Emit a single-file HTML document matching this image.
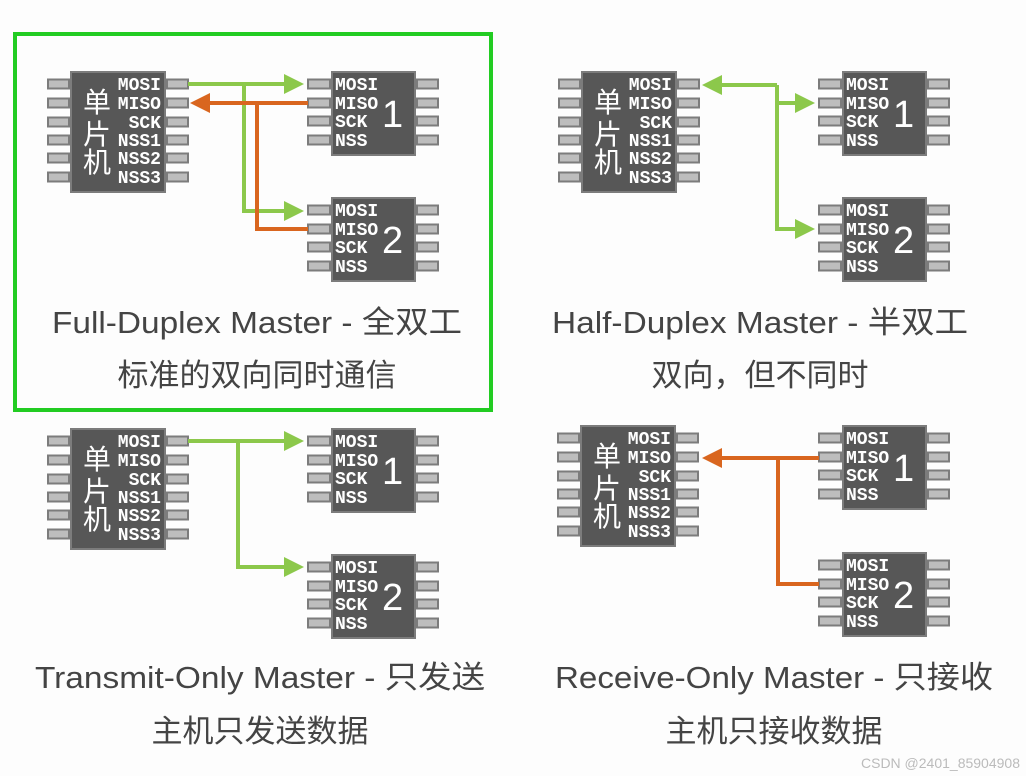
<!DOCTYPE html>
<html><head><meta charset="utf-8"><style>
html,body{margin:0;padding:0;background:#fdfdfd;}
svg{display:block;}
.b{fill:#575757;stroke:#7c7c7c;stroke-width:2}
.p{fill:#bdbdbd;stroke:#7c7c7c;stroke-width:2}
.l{font-family:"Liberation Mono",monospace;font-weight:bold;font-size:18px;fill:#fff}
.cn{font-family:"Liberation Sans","Noto Sans CJK SC",sans-serif;font-size:28px;fill:#fff}
.n{font-family:"Liberation Sans",sans-serif;font-size:38px;fill:#fff}
.t{font-family:"Liberation Sans","Noto Sans CJK SC",sans-serif;font-size:31px;fill:#444;text-anchor:middle}
.g{stroke:#8cc84b;stroke-width:4;fill:none}
.o{stroke:#d9661f;stroke-width:4;fill:none}
</style></head><body>
<svg width="1026" height="776" viewBox="0 0 1026 776" xmlns="http://www.w3.org/2000/svg">
<defs>
<marker id="ag" markerWidth="5" markerHeight="5" refX="4" refY="2.5" orient="auto" markerUnits="strokeWidth"><path d="M0,0 L5,2.5 L0,5 z" fill="#8cc84b"/></marker>
<marker id="ao" markerWidth="5" markerHeight="5" refX="4" refY="2.5" orient="auto" markerUnits="strokeWidth"><path d="M0,0 L5,2.5 L0,5 z" fill="#d9661f"/></marker>
</defs>

<rect x="15" y="34" width="476" height="376" fill="none" stroke="#22cc22" stroke-width="4"/>

<!-- Panel 1 -->
<g transform="translate(71,72)">
<rect class="b" x="0" y="0" width="94" height="120"/>
<rect class="p" x="-23" y="7.5" width="21" height="9"/><rect class="p" x="-23" y="26.5" width="21" height="9"/><rect class="p" x="-23" y="45.5" width="21" height="9"/><rect class="p" x="-23" y="63.5" width="21" height="9"/><rect class="p" x="-23" y="81.5" width="21" height="9"/><rect class="p" x="-23" y="100.5" width="21" height="9"/>
<rect class="p" x="96" y="7.5" width="21" height="9"/><rect class="p" x="96" y="26.5" width="21" height="9"/><rect class="p" x="96" y="45.5" width="21" height="9"/><rect class="p" x="96" y="63.5" width="21" height="9"/><rect class="p" x="96" y="81.5" width="21" height="9"/><rect class="p" x="96" y="100.5" width="21" height="9"/>
<g class="l" text-anchor="end"><text x="90" y="18">MOSI</text><text x="90" y="37">MISO</text><text x="90" y="56">SCK</text><text x="90" y="74">NSS1</text><text x="90" y="92">NSS2</text><text x="90" y="111">NSS3</text></g>
<g class="cn" text-anchor="middle"><text x="26" y="40">单</text><text x="26" y="72">片</text><text x="26" y="100">机</text></g>
</g>
<g transform="translate(332,72)">
<rect class="b" x="0" y="0" width="83" height="83"/>
<rect class="p" x="-24" y="7.5" width="22" height="9"/><rect class="p" x="-24" y="26.5" width="22" height="9"/><rect class="p" x="-24" y="44.5" width="22" height="9"/><rect class="p" x="-24" y="63.5" width="22" height="9"/>
<rect class="p" x="85" y="7.5" width="21" height="9"/><rect class="p" x="85" y="26.5" width="21" height="9"/><rect class="p" x="85" y="44.5" width="21" height="9"/><rect class="p" x="85" y="63.5" width="21" height="9"/>
<g class="l"><text x="3" y="18">MOSI</text><text x="3" y="37">MISO</text><text x="3" y="55">SCK</text><text x="3" y="74">NSS</text></g>
<text class="n" x="50" y="55">1</text>
</g>
<g transform="translate(332,198)">
<rect class="b" x="0" y="0" width="83" height="83"/>
<rect class="p" x="-24" y="7.5" width="22" height="9"/><rect class="p" x="-24" y="26.5" width="22" height="9"/><rect class="p" x="-24" y="44.5" width="22" height="9"/><rect class="p" x="-24" y="63.5" width="22" height="9"/>
<rect class="p" x="85" y="7.5" width="21" height="9"/><rect class="p" x="85" y="26.5" width="21" height="9"/><rect class="p" x="85" y="44.5" width="21" height="9"/><rect class="p" x="85" y="63.5" width="21" height="9"/>
<g class="l"><text x="3" y="18">MOSI</text><text x="3" y="37">MISO</text><text x="3" y="55">SCK</text><text x="3" y="74">NSS</text></g>
<text class="n" x="50" y="55">2</text>
</g>
<path class="g" d="M188,84 H300" marker-end="url(#ag)"/>
<path class="g" d="M244,84 V211 H300" marker-end="url(#ag)"/>
<path class="o" d="M308,103 H194" marker-end="url(#ao)"/>
<path class="o" d="M308,229 H257 V103"/>
<text class="t" x="257" y="333" textLength="410" lengthAdjust="spacingAndGlyphs">Full-Duplex Master - 全双工</text>
<text class="t" x="257" y="386">标准的双向同时通信</text>

<!-- Panel 2 -->
<g transform="translate(582,72)">
<rect class="b" x="0" y="0" width="94" height="120"/>
<rect class="p" x="-23" y="7.5" width="21" height="9"/><rect class="p" x="-23" y="26.5" width="21" height="9"/><rect class="p" x="-23" y="45.5" width="21" height="9"/><rect class="p" x="-23" y="63.5" width="21" height="9"/><rect class="p" x="-23" y="81.5" width="21" height="9"/><rect class="p" x="-23" y="100.5" width="21" height="9"/>
<rect class="p" x="96" y="7.5" width="21" height="9"/><rect class="p" x="96" y="26.5" width="21" height="9"/><rect class="p" x="96" y="45.5" width="21" height="9"/><rect class="p" x="96" y="63.5" width="21" height="9"/><rect class="p" x="96" y="81.5" width="21" height="9"/><rect class="p" x="96" y="100.5" width="21" height="9"/>
<g class="l" text-anchor="end"><text x="90" y="18">MOSI</text><text x="90" y="37">MISO</text><text x="90" y="56">SCK</text><text x="90" y="74">NSS1</text><text x="90" y="92">NSS2</text><text x="90" y="111">NSS3</text></g>
<g class="cn" text-anchor="middle"><text x="26" y="40">单</text><text x="26" y="72">片</text><text x="26" y="100">机</text></g>
</g>
<g transform="translate(843,72)">
<rect class="b" x="0" y="0" width="83" height="83"/>
<rect class="p" x="-24" y="7.5" width="22" height="9"/><rect class="p" x="-24" y="26.5" width="22" height="9"/><rect class="p" x="-24" y="44.5" width="22" height="9"/><rect class="p" x="-24" y="63.5" width="22" height="9"/>
<rect class="p" x="85" y="7.5" width="21" height="9"/><rect class="p" x="85" y="26.5" width="21" height="9"/><rect class="p" x="85" y="44.5" width="21" height="9"/><rect class="p" x="85" y="63.5" width="21" height="9"/>
<g class="l"><text x="3" y="18">MOSI</text><text x="3" y="37">MISO</text><text x="3" y="55">SCK</text><text x="3" y="74">NSS</text></g>
<text class="n" x="50" y="55">1</text>
</g>
<g transform="translate(843,198)">
<rect class="b" x="0" y="0" width="83" height="83"/>
<rect class="p" x="-24" y="7.5" width="22" height="9"/><rect class="p" x="-24" y="26.5" width="22" height="9"/><rect class="p" x="-24" y="44.5" width="22" height="9"/><rect class="p" x="-24" y="63.5" width="22" height="9"/>
<rect class="p" x="85" y="7.5" width="21" height="9"/><rect class="p" x="85" y="26.5" width="21" height="9"/><rect class="p" x="85" y="44.5" width="21" height="9"/><rect class="p" x="85" y="63.5" width="21" height="9"/>
<g class="l"><text x="3" y="18">MOSI</text><text x="3" y="37">MISO</text><text x="3" y="55">SCK</text><text x="3" y="74">NSS</text></g>
<text class="n" x="50" y="55">2</text>
</g>
<path class="g" d="M777,85 H706" marker-end="url(#ag)"/>
<path class="g" d="M777,85 V229 H811" marker-end="url(#ag)"/>
<path class="g" d="M777,103 H811" marker-end="url(#ag)"/>
<text class="t" x="760" y="333" textLength="416" lengthAdjust="spacingAndGlyphs">Half-Duplex Master - 半双工</text>
<text class="t" x="760" y="386">双向，但不同时</text>

<!-- Panel 3 -->
<g transform="translate(71,429)">
<rect class="b" x="0" y="0" width="94" height="120"/>
<rect class="p" x="-23" y="7.5" width="21" height="9"/><rect class="p" x="-23" y="26.5" width="21" height="9"/><rect class="p" x="-23" y="45.5" width="21" height="9"/><rect class="p" x="-23" y="63.5" width="21" height="9"/><rect class="p" x="-23" y="81.5" width="21" height="9"/><rect class="p" x="-23" y="100.5" width="21" height="9"/>
<rect class="p" x="96" y="7.5" width="21" height="9"/><rect class="p" x="96" y="26.5" width="21" height="9"/><rect class="p" x="96" y="45.5" width="21" height="9"/><rect class="p" x="96" y="63.5" width="21" height="9"/><rect class="p" x="96" y="81.5" width="21" height="9"/><rect class="p" x="96" y="100.5" width="21" height="9"/>
<g class="l" text-anchor="end"><text x="90" y="18">MOSI</text><text x="90" y="37">MISO</text><text x="90" y="56">SCK</text><text x="90" y="74">NSS1</text><text x="90" y="92">NSS2</text><text x="90" y="111">NSS3</text></g>
<g class="cn" text-anchor="middle"><text x="26" y="40">单</text><text x="26" y="72">片</text><text x="26" y="100">机</text></g>
</g>
<g transform="translate(332,429)">
<rect class="b" x="0" y="0" width="83" height="83"/>
<rect class="p" x="-24" y="7.5" width="22" height="9"/><rect class="p" x="-24" y="26.5" width="22" height="9"/><rect class="p" x="-24" y="44.5" width="22" height="9"/><rect class="p" x="-24" y="63.5" width="22" height="9"/>
<rect class="p" x="85" y="7.5" width="21" height="9"/><rect class="p" x="85" y="26.5" width="21" height="9"/><rect class="p" x="85" y="44.5" width="21" height="9"/><rect class="p" x="85" y="63.5" width="21" height="9"/>
<g class="l"><text x="3" y="18">MOSI</text><text x="3" y="37">MISO</text><text x="3" y="55">SCK</text><text x="3" y="74">NSS</text></g>
<text class="n" x="50" y="55">1</text>
</g>
<g transform="translate(332,555)">
<rect class="b" x="0" y="0" width="83" height="83"/>
<rect class="p" x="-24" y="7.5" width="22" height="9"/><rect class="p" x="-24" y="26.5" width="22" height="9"/><rect class="p" x="-24" y="44.5" width="22" height="9"/><rect class="p" x="-24" y="63.5" width="22" height="9"/>
<rect class="p" x="85" y="7.5" width="21" height="9"/><rect class="p" x="85" y="26.5" width="21" height="9"/><rect class="p" x="85" y="44.5" width="21" height="9"/><rect class="p" x="85" y="63.5" width="21" height="9"/>
<g class="l"><text x="3" y="18">MOSI</text><text x="3" y="37">MISO</text><text x="3" y="55">SCK</text><text x="3" y="74">NSS</text></g>
<text class="n" x="50" y="55">2</text>
</g>
<path class="g" d="M188,441 H300" marker-end="url(#ag)"/>
<path class="g" d="M238,441 V567 H300" marker-end="url(#ag)"/>
<text class="t" x="260" y="688" textLength="450" lengthAdjust="spacingAndGlyphs">Transmit-Only Master - 只发送</text>
<text class="t" x="260" y="742">主机只发送数据</text>

<!-- Panel 4 -->
<g transform="translate(581,426)">
<rect class="b" x="0" y="0" width="94" height="120"/>
<rect class="p" x="-23" y="7.5" width="21" height="9"/><rect class="p" x="-23" y="26.5" width="21" height="9"/><rect class="p" x="-23" y="45.5" width="21" height="9"/><rect class="p" x="-23" y="63.5" width="21" height="9"/><rect class="p" x="-23" y="81.5" width="21" height="9"/><rect class="p" x="-23" y="100.5" width="21" height="9"/>
<rect class="p" x="96" y="7.5" width="21" height="9"/><rect class="p" x="96" y="26.5" width="21" height="9"/><rect class="p" x="96" y="45.5" width="21" height="9"/><rect class="p" x="96" y="63.5" width="21" height="9"/><rect class="p" x="96" y="81.5" width="21" height="9"/><rect class="p" x="96" y="100.5" width="21" height="9"/>
<g class="l" text-anchor="end"><text x="90" y="18">MOSI</text><text x="90" y="37">MISO</text><text x="90" y="56">SCK</text><text x="90" y="74">NSS1</text><text x="90" y="92">NSS2</text><text x="90" y="111">NSS3</text></g>
<g class="cn" text-anchor="middle"><text x="26" y="40">单</text><text x="26" y="72">片</text><text x="26" y="100">机</text></g>
</g>
<g transform="translate(843,426)">
<rect class="b" x="0" y="0" width="83" height="83"/>
<rect class="p" x="-24" y="7.5" width="22" height="9"/><rect class="p" x="-24" y="26.5" width="22" height="9"/><rect class="p" x="-24" y="44.5" width="22" height="9"/><rect class="p" x="-24" y="63.5" width="22" height="9"/>
<rect class="p" x="85" y="7.5" width="21" height="9"/><rect class="p" x="85" y="26.5" width="21" height="9"/><rect class="p" x="85" y="44.5" width="21" height="9"/><rect class="p" x="85" y="63.5" width="21" height="9"/>
<g class="l"><text x="3" y="18">MOSI</text><text x="3" y="37">MISO</text><text x="3" y="55">SCK</text><text x="3" y="74">NSS</text></g>
<text class="n" x="50" y="55">1</text>
</g>
<g transform="translate(843,553)">
<rect class="b" x="0" y="0" width="83" height="83"/>
<rect class="p" x="-24" y="7.5" width="22" height="9"/><rect class="p" x="-24" y="26.5" width="22" height="9"/><rect class="p" x="-24" y="44.5" width="22" height="9"/><rect class="p" x="-24" y="63.5" width="22" height="9"/>
<rect class="p" x="85" y="7.5" width="21" height="9"/><rect class="p" x="85" y="26.5" width="21" height="9"/><rect class="p" x="85" y="44.5" width="21" height="9"/><rect class="p" x="85" y="63.5" width="21" height="9"/>
<g class="l"><text x="3" y="18">MOSI</text><text x="3" y="37">MISO</text><text x="3" y="55">SCK</text><text x="3" y="74">NSS</text></g>
<text class="n" x="50" y="55">2</text>
</g>
<path class="o" d="M819,458 H706" marker-end="url(#ao)"/>
<path class="o" d="M819,584 H778 V458"/>
<text class="t" x="774" y="688" textLength="438" lengthAdjust="spacingAndGlyphs">Receive-Only Master - 只接收</text>
<text class="t" x="774" y="742">主机只接收数据</text>

<text x="1020" y="768" text-anchor="end" font-family="Liberation Sans,sans-serif" font-size="14" fill="#bbb">CSDN @2401_85904908</text>
</svg>
</body></html>
